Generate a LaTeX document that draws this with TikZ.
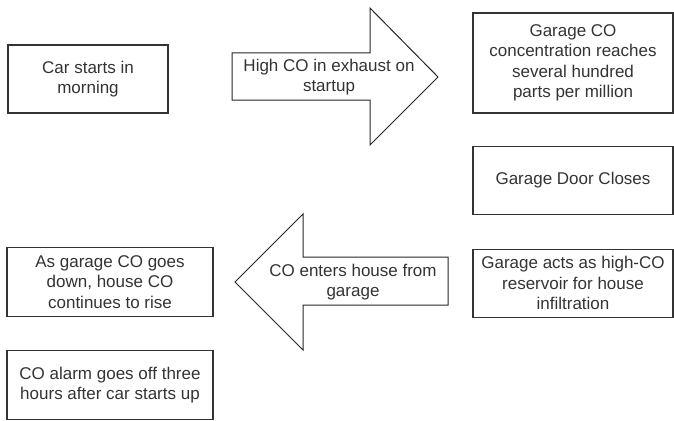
\documentclass[tikz,border=0pt]{standalone}
\usepackage{fontspec}
\setmainfont{Liberation Sans}
\usetikzlibrary{positioning}

\begin{document}
\begin{tikzpicture}[
x=1pt, y=-1pt,
node distance = 32pt and 64pt,
every node/.style={font=\fontsize{17}{20.5}\selectfont, text=black!80},
box/.style={rectangle, draw=black!80, line width=1.2pt, align=center, inner sep=2pt},
wide/.style={minimum width=206pt, minimum height=69pt},
side/.style={minimum width=200pt, minimum height=68pt},
blockarrow/.style={draw=black!85, line width=1pt, line join=miter},
arrowtext/.style={align=center, inner sep=0pt}]

\useasboundingbox (0,0) rectangle (674,420);

% left column
\node[box, minimum width=160pt, minimum height=68pt] (car) at (88,79) {Car starts in\\morning};
\node[box, wide] (goesdown) at (110,282) {As garage CO goes\\down, house CO\\continues to rise};
\node[box, wide] (alarm) [below = 33pt of goesdown] {CO alarm goes off three\\hours after car starts up};

% right column
\node[box, side, minimum height=100pt] (garageco) at (573,63) {Garage CO\\concentration reaches\\several hundred\\parts per million};
\node[box, side] (door) [below = 32pt of garageco] {Garage Door Closes};
\node[box, side] (reservoir) [below = 34pt of door] {Garage acts as high-CO\\reservoir for house\\infiltration};

% block arrows
\draw[blockarrow] (232,53) -- (370,53) -- (370,8) -- (438,77) -- (370,145) -- (370,100) -- (232,100) -- cycle;
\node[arrowtext] (exhaust) at (329,77) {High CO in exhaust on\\startup};

\draw[blockarrow] (448,257) -- (303,257) -- (303,214) -- (235,282) -- (303,350) -- (303,305) -- (448,305) -- cycle;
\node[arrowtext] (enters) at (353,282) {CO enters house from\\garage};
\end{tikzpicture}
\end{document}
